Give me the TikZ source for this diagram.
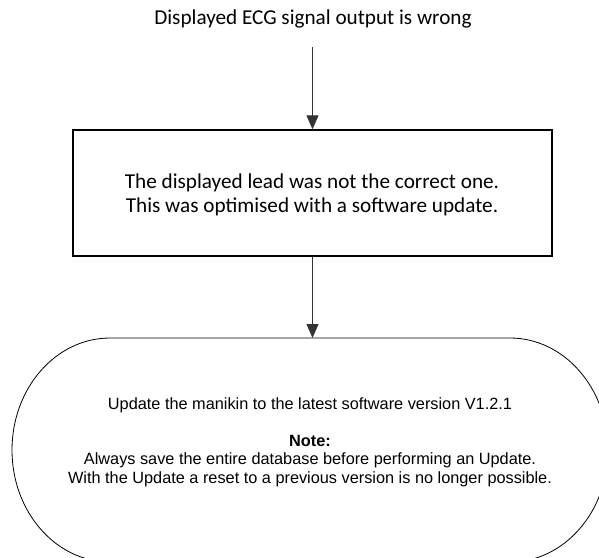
\documentclass[tikz,border=0pt]{standalone}
\usepackage{fontspec}
\setmainfont{Carlito}
\newfontfamily\arialf{Liberation Sans}
\usetikzlibrary{arrows.meta}
\begin{document}
\begin{tikzpicture}[x=1pt,y=-1pt,
  calib/.style={font=\fontsize{21.2}{24}\selectfont, inner sep=0pt},
  procbox/.style={draw=black, line width=1.4pt, minimum width=479pt, minimum height=126pt, align=center, font=\fontsize{21.2}{24.5}\selectfont, inner sep=0pt},
  boxtext/.style={align=center, inner sep=0pt, font=\fontsize{21.2}{24.5}\selectfont},
  termtext/.style={align=center, inner sep=0pt, font=\arialf\fontsize{16.3}{18.5}\selectfont},
  termline/.style={draw=black, line width=0.8pt},
  arr/.style={draw=black!80, line width=0.9pt, -{Triangle[length=14pt,width=12pt]}}]
\useasboundingbox (0,0) rectangle (599,557);
\clip (0,0) rectangle (599,557);
\node[calib] (title) at (313,19) {Displayed ECG signal output is wrong};
\coordinate (a0) at (312.5,47);
\node[procbox] (box) at (312.5,193) {};
\node[boxtext] (boxlabel) at (312,195) {The displayed lead was not the correct one.\\This was optimised with a software update.};
\draw[termline] (110,338) -- (510,338) arc[start angle=-90, end angle=90, x radius=98, y radius=112]
  -- (110,562) arc[start angle=90, end angle=270, x radius=98, y radius=112] -- cycle;
\coordinate (termtop) at (312.5,338);
\node[termtext] (term) at (310,442) {Update the manikin to the latest software version V1.2.1\\[18.5pt]
  \textbf{Note:}\\Always save the entire database before performing an Update.\\With the Update a reset to a previous version is no longer possible.};
\draw[arr] (a0) -- (box.north);
\draw[arr] (box.south) -- (termtop);
\end{tikzpicture}
\end{document}
